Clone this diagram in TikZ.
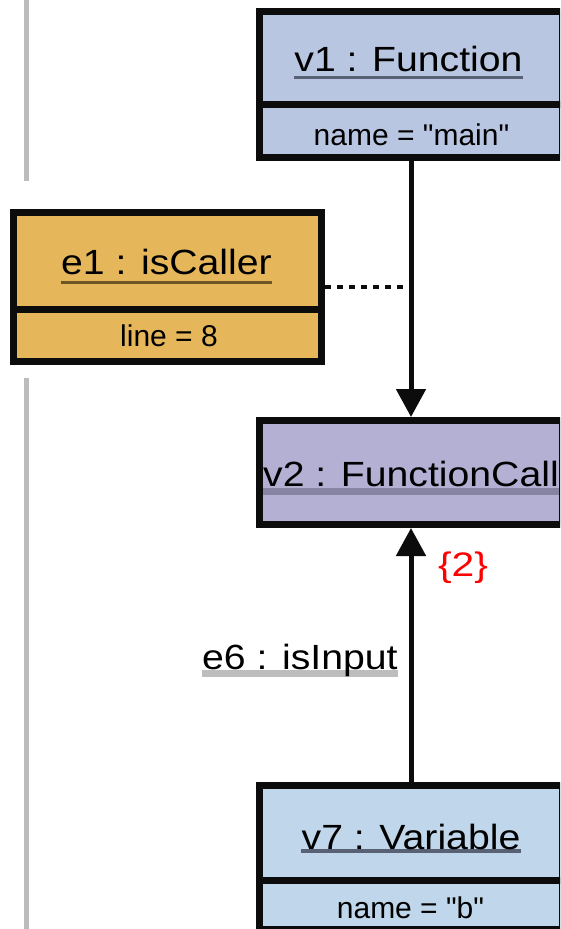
\documentclass[tikz,border=0pt]{standalone}
\usepackage{fontspec}
\setmainfont{Liberation Sans}[Ligatures=TeXOff]
\usetikzlibrary{arrows.meta,calc}
\pgfdeclarelayer{boxes}
\pgfdeclarelayer{ulines}
\pgfsetlayers{boxes,ulines,main}
\definecolor{cFunc}{RGB}{185,198,225}
\definecolor{cEdge}{RGB}{230,183,90}
\definecolor{cCall}{RGB}{180,176,212}
\definecolor{cVar}{RGB}{192,214,234}
\definecolor{cSep}{RGB}{188,188,188}
\definecolor{cUlBlue}{RGB}{89,98,117}
\definecolor{cUlBrown}{RGB}{110,85,38}
\definecolor{cUlPurple}{RGB}{134,131,163}
\definecolor{cUlGray}{RGB}{189,189,189}
\definecolor{cBorder}{RGB}{12,12,12}
\newcommand{\ttltext}[1]{\scalebox{1.12}[1]{\fontsize{35}{40}\selectfont #1}}
\newcommand{\multtext}[1]{\scalebox{1.2}[1]{\fontsize{34}{40}\selectfont #1}}
\tikzset{
  umlbox/.style={draw=cBorder, line width=7pt, rectangle, inner sep=0pt},
  divider/.style={draw=cBorder, line width=7pt},
  titletext/.style={inner sep=0pt, anchor=base},
  attrtext/.style={inner sep=0pt, anchor=base, font=\fontsize{30}{34}\selectfont},
  uline/.style={line width=#1},
  conn/.style={draw=cBorder, line width=5pt, -{Triangle[length=28pt,width=29pt]}},
  dotconn/.style={draw=cBorder, line width=4pt, dash pattern=on 6pt off 6pt},
  sepline/.style={draw=cSep, line width=5pt},
}
\begin{document}
\begin{tikzpicture}[x=1pt,y=-1pt]
\useasboundingbox (0,0) rectangle (560,929);
\begin{pgfonlayer}{boxes}
\begin{scope}
\clip (0,0) rectangle (560,929);
\fill[white] (0,0) rectangle (560,929);
\draw[sepline] (26,0) -- (26,181);
\draw[sepline] (26,378) -- (26,929);
\node[umlbox, fill=cFunc, minimum width=303pt, minimum height=146pt] (v1) at (411,84.5) {};
\draw[divider] ([yshift=-19.5pt]v1.west) -- ([yshift=-19.5pt]v1.east);
\node[umlbox, fill=cEdge, minimum width=308pt, minimum height=149pt] (e1) at (167.5,287) {};
\draw[divider] ([yshift=-22pt]e1.west) -- ([yshift=-22pt]e1.east);
\node[umlbox, fill=cCall, minimum width=303pt, minimum height=104pt] (v2) at (411,472.5) {};
\node[umlbox, fill=cVar, minimum width=303pt, minimum height=144pt] (v7) at (411,857.5) {};
\draw[divider] ([yshift=-22.5pt]v7.west) -- ([yshift=-22.5pt]v7.east);
\end{scope}
\end{pgfonlayer}

% texts
\node[titletext] (v1t) at (408.5,71) {\ttltext{v1 : Function}};
\node[attrtext] (v1a) at (411.5,145) {name = "main"};
\node[titletext] (e1t) at (166.5,274) {\ttltext{e1 : isCaller}};
\node[attrtext] (e1a) at (169,346) {line = 8};
\node[titletext] (v2t) at (411,486) {\ttltext{v2 : FunctionCall}};
\node[titletext] (v7t) at (411,849) {\ttltext{v7 : Variable}};
\node[attrtext] (v7a) at (410.5,918) {name = "b"};
\node[inner sep=0pt, anchor=base west] (e6) at (202,669) {\ttltext{e6 : isInput}};
\node[inner sep=0pt, anchor=base, text=red] (m2) at (463,576) {\multtext{\{2\}}};

% underlines
\begin{pgfonlayer}{ulines}
\draw[uline=3pt, cUlBlue] ($(v1t.base west)+(0,6)$) -- ($(v1t.base east)+(0,6)$);
\draw[uline=3pt, cUlBrown] ($(e1t.base west)+(0,8)$) -- ($(e1t.base east)+(0,8)$);
\draw[uline=7pt, cUlPurple] ($(v2t.base west)+(0,5)$) -- ($(v2t.base east)+(0,5)$);
\draw[uline=4pt, cUlBlue] ($(v7t.base west)+(0,1.5)$) -- ($(v7t.base east)+(0,1.5)$);
\draw[uline=7pt, cUlGray] ($(e6.base west)+(0,4.5)$) -- ($(e6.base east)+(0,4.5)$);
\end{pgfonlayer}

% connectors
\draw[conn] (v1.south) -- (v2.north);
\draw[conn] (v7.north) -- (v2.south);
\draw[dotconn] (e1.east) -- (e1.east -| v1.south);
\end{tikzpicture}
\end{document}
